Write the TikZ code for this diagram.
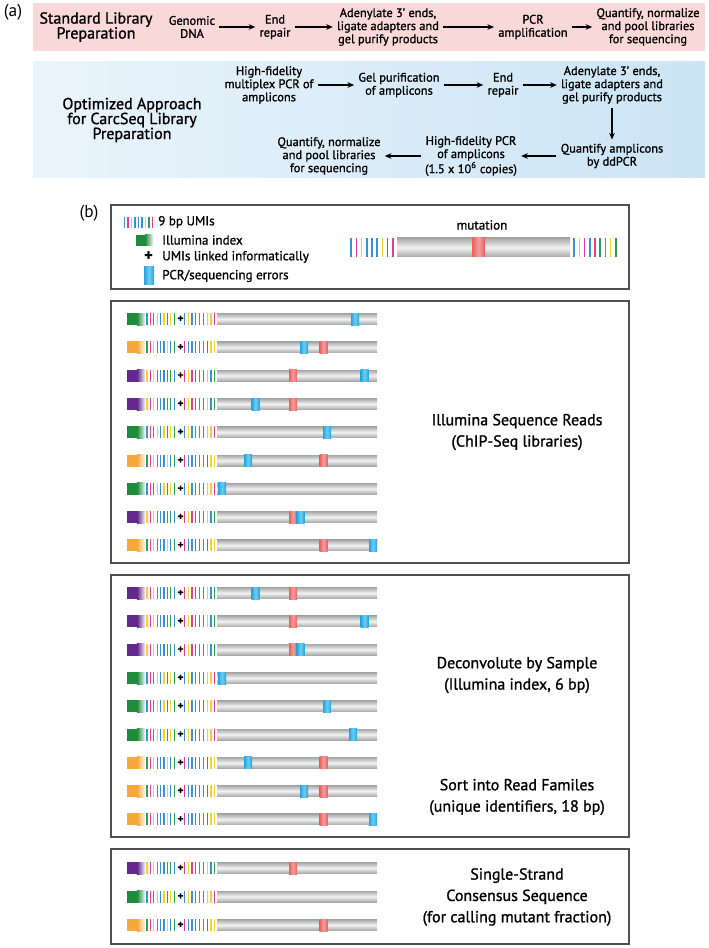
\documentclass[tikz,border=0pt]{standalone}
\usepackage{fontspec}
\setmainfont{PT Sans}[FakeBold=1.2]
\newfontfamily\plainfont{PT Sans}
\usepackage{tikz}
\usetikzlibrary{arrows.meta}

\definecolor{umiP}{RGB}{226,61,143}
\definecolor{umiY}{RGB}{242,210,46}
\definecolor{umiB}{RGB}{61,142,212}
\definecolor{umiG}{RGB}{46,158,85}
\definecolor{idxGreen}{RGB}{30,140,60}
\definecolor{idxOrange}{RGB}{246,168,58}
\definecolor{idxPurple}{RGB}{98,40,140}
\definecolor{mutEdge}{RGB}{232,96,96}
\definecolor{mutMid}{RGB}{244,158,158}
\definecolor{errEdge}{RGB}{36,164,222}
\definecolor{errMid}{RGB}{110,205,242}
\definecolor{barDark}{RGB}{168,168,168}
\definecolor{barLight}{RGB}{242,242,242}
\definecolor{pinkbg}{RGB}{249,217,215}
\definecolor{blueL}{RGB}{234,244,251}
\definecolor{blueR}{RGB}{203,228,245}
\definecolor{boxline}{RGB}{80,80,80}

% UMI colour lists of the three families
\def\purL{umiY,umiP,umiY,umiB,umiB,umiB,umiG,umiG,umiB}
\def\purR{umiP,umiY,umiP,umiP,umiB,umiP,umiY,umiB,umiG}
\def\grnL{umiB,umiP,umiB,umiY,umiB,umiY,umiG,umiY,umiG}
\def\grnR{umiB,umiY,umiB,umiB,umiB,umiP,umiY,umiY,umiP}
\def\orgL{umiG,umiP,umiY,umiP,umiB,umiB,umiY,umiB,umiG}
\def\orgR{umiP,umiB,umiB,umiP,umiB,umiB,umiP,umiY,umiY}

% one read: name, y, index colour, left UMIs, right UMIs
\newcommand{\seqread}[5]{%
  \fill[#3] (127,#2-6) rectangle (137,#2+6);
  \shade[left color=#3, right color=#3!8] (137,#2-6) rectangle (145,#2+6);
  \foreach \col [count=\k] in #4 {\draw[\col, umibar] (143.6+3.4*\k,#2-6) -- (143.6+3.4*\k,#2+6);}
  \node[plus] (#1) at (180.5,#2) {+};
  \foreach \col [count=\k] in #5 {\draw[\col, umibar] (180.6+3.8*\k,#2-6) -- (180.6+3.8*\k,#2+6);}
  \shade[greybar] (217,#2-5.5) rectangle (377,#2+5.5);
}
\newcommand{\purpleread}[2]{\seqread{#1}{#2}{idxPurple}{\purL}{\purR}}
\newcommand{\greenread}[2]{\seqread{#1}{#2}{idxGreen}{\grnL}{\grnR}}
\newcommand{\orangeread}[2]{\seqread{#1}{#2}{idxOrange}{\orgL}{\orgR}}
\newcommand{\mutmark}[2]{\shade[mutshade] (#1-4,#2-6) rectangle (#1+4,#2+6);}
\newcommand{\errmark}[2]{\shade[errshade] (#1-4,#2-6) rectangle (#1+4,#2+6);}

\begin{document}
\begin{tikzpicture}[x=0.75pt,y=-0.75pt]
\tikzstyle{every node}=[font=\fontsize{9.3}{9.8}\selectfont]
\tikzstyle{stepnode}=[align=center, inner sep=3pt]
\tikzstyle{titlenode}=[align=center, font=\fontsize{12}{11.2}\selectfont]
\tikzstyle{panellabel}=[font=\plainfont\fontsize{13}{15}\selectfont]
\tikzstyle{flow}=[-{Stealth[length=5pt,width=4.2pt]}, line width=0.9pt]
\tikzstyle{panelbox}=[draw=boxline, line width=1pt]
\tikzstyle{umibar}=[line width=0.95pt]
\tikzstyle{plus}=[font=\fontsize{8.5}{8}\selectfont\bfseries, inner sep=0pt]
\tikzstyle{greybar}=[top color=barDark, bottom color=barDark, middle color=barLight]
\tikzstyle{mutshade}=[left color=mutEdge, right color=mutEdge, middle color=mutMid]
\tikzstyle{errshade}=[left color=errEdge, right color=errEdge, middle color=errMid]
\tikzstyle{legendtext}=[anchor=west, inner sep=0pt, font=\fontsize{9.8}{10}\selectfont]
\tikzstyle{boxlabel}=[align=center, font=\fontsize{12}{16}\selectfont]
\useasboundingbox (0,0) rectangle (709,948);

% (a) library preparation
\fill[pinkbg] (33,3) rectangle (705,51);
\shade[left color=blueL, right color=blueR] (33,62) rectangle (705,178);
\node[panellabel] (la) at (13,12) {(a)};

\node[titlenode] (std) at (96,27) {Standard Library\\Preparation};
\node[stepnode] (s1) at (192,27) {Genomic\\DNA};
\node[stepnode] (s2) at (275,27) {End\\repair};
\node[stepnode] (s3) at (388,27) {Adenylate 3’ ends,\\ligate adapters and\\gel purify products};
\node[stepnode] (s4) at (533,27) {PCR\\amplification};
\node[stepnode] (s5) at (648,27) {Quantify, normalize\\and pool libraries\\for sequencing};
\draw[flow] (s1) -- (s2);
\draw[flow] (s2) -- (s3);
\draw[flow] (s3) -- (s4);
\draw[flow] (s4) -- (s5);

\node[titlenode] (opt) at (132,120) {Optimized Approach\\for CarcSeq Library\\Preparation};
\node[stepnode] (o1) at (269,85) {High-fidelity\\multiplex PCR of\\amplicons};
\node[stepnode] (o2) at (399,85) {Gel purification\\of amplicons};
\node[stepnode] (o3) at (503,85) {End\\repair};
\node[stepnode] (o4) at (612,85) {Adenylate 3’ ends,\\ligate adapters and\\gel purify products};
\node[stepnode] (o5) at (612,156) {Quantify amplicons\\by ddPCR};
\node[stepnode] (o6) at (471,156) {High-fidelity PCR\\of amplicons\\(1.5 x 10\textsuperscript{6} copies)};
\node[stepnode] (o7) at (329,156) {Quantify, normalize\\and pool libraries\\for sequencing};
\draw[flow] (o1) -- (o2);
\draw[flow] (o2) -- (o3);
\draw[flow] (o3) -- (o4);
\draw[flow] (o4) -- (o5);
\draw[flow] (o5) -- (o6);
\draw[flow] (o6) -- (o7);

% (b) legend
\node[panellabel] (lb) at (89,213) {(b)};
\draw[panelbox] (111,205) rectangle (629,289);
\foreach \col [count=\k] in {umiB,umiP,umiY,umiB,umiB,umiB,umiY,umiG,umiP}
  \draw[\col, umibar] (121+3.5*\k,217) -- (121+3.5*\k,228);
\node[legendtext] (lumi) at (158,222) {9 bp UMIs};
\fill[idxGreen] (136,235) rectangle (145,246);
\shade[left color=idxGreen, right color=idxGreen!8] (145,235) rectangle (153,246);
\node[legendtext] (lidx) at (162,240) {Illumina index};
\node[plus, font=\fontsize{12}{12}\selectfont\bfseries] (lplus) at (148.5,256) {+};
\node[legendtext] (llink) at (162,257) {UMIs linked informatically};
\shade[errshade] (144,267) rectangle (154,285);
\node[legendtext] (lerr) at (162,276) {PCR/sequencing errors};

\node[legendtext, anchor=center] (lmut) at (482,225) {mutation};
\foreach \col [count=\k] in {umiB,umiP,umiY,umiB,umiB,umiB,umiY,umiG,umiP}
  \draw[\col, line width=1.2pt] (346+5.2*\k,238) -- (346+5.2*\k,257);
\shade[greybar] (397,238) rectangle (570,257);
\shade[mutshade] (472,238) rectangle (485,257);
\foreach \col [count=\k] in {umiB,umiY,umiP,umiB,umiP,umiG,umiB,umiY,umiG}
  \draw[\col, line width=1.2pt] (569+5.2*\k,238) -- (569+5.2*\k,257);

% sequence reads
\draw[panelbox] (111,301) rectangle (629,563);
\greenread{r21}{319} \errmark{355}{319}
\orangeread{r22}{347.3} \errmark{304}{347.3} \mutmark{323.5}{347.3}
\purpleread{r23}{375.6} \mutmark{293}{375.6} \errmark{364.5}{375.6}
\purpleread{r24}{404} \errmark{255.5}{404} \mutmark{293}{404}
\greenread{r25}{432.2} \errmark{327}{432.2}
\orangeread{r26}{460.5} \errmark{248}{460.5} \mutmark{323.5}{460.5}
\greenread{r27}{488.8} \errmark{222}{488.8}
\purpleread{r28}{517} \mutmark{293}{517} \errmark{300.5}{517}
\orangeread{r29}{545.4} \mutmark{323.5}{545.4} \errmark{373}{545.4}
\node[boxlabel] (reads) at (517,432) {Illumina Sequence Reads\\(ChIP-Seq libraries)};

% sorted reads
\draw[panelbox] (111,575) rectangle (629,837);
\purpleread{r31}{593} \errmark{255.5}{593} \mutmark{293}{593}
\purpleread{r32}{621.3} \mutmark{293}{621.3} \errmark{364.5}{621.3}
\purpleread{r33}{649.6} \mutmark{293}{649.6} \errmark{300.5}{649.6}
\greenread{r34}{678} \errmark{222}{678}
\greenread{r35}{706.2} \errmark{327}{706.2}
\greenread{r36}{734.5} \errmark{353}{734.5}
\orangeread{r37}{762.8} \errmark{248}{762.8} \mutmark{323.5}{762.8}
\orangeread{r38}{791} \errmark{304}{791} \mutmark{323.5}{791}
\orangeread{r39}{819.4} \mutmark{323.5}{819.4} \errmark{373}{819.4}
\node[boxlabel] (demux) at (517,675) {Deconvolute by Sample\\(Illumina index, 6 bp)};
\node[boxlabel] (famsort) at (517,797) {Sort into Read Familes\\(unique identifiers, 18 bp)};

% consensus
\draw[panelbox] (111,849) rectangle (629,944);
\purpleread{r41}{868} \mutmark{293}{868}
\greenread{r42}{896.5}
\orangeread{r43}{925} \mutmark{323.5}{925}
\node[boxlabel] (sscs) at (517,897) {Single-Strand\\Consensus Sequence\\(for calling mutant fraction)};
\end{tikzpicture}
\end{document}
